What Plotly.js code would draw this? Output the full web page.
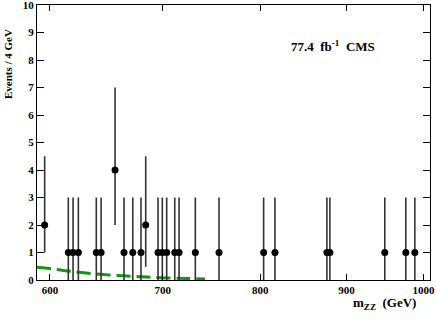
<!DOCTYPE html>
<html>
<head>
<meta charset="utf-8">
<script src="https://cdn.plot.ly/plotly-3.0.1.min.js"></script>
<style>html,body{margin:0;padding:0;background:#fff;}#chart{width:436px;height:321px;}</style>
</head>
<body>
<div id="chart"></div>
<script>
// Data points (m_ZZ in GeV, events per 4 GeV bin)
const massValues = [595.7, 615.3, 619.3, 623.8, 639.3, 643.5, 655.9, 664.0, 672.0, 679.6, 684.0,
  695.6, 699.7, 703.9, 711.7, 715.9, 732.0, 756.1, 803.7, 816.2, 876.3, 879.9, 948.5, 976.2, 988.3];
const eventCounts = [2, 1, 1, 1, 1, 1, 4, 1, 1, 1, 2,
  1, 1, 1, 1, 1, 1, 1, 1, 1, 1, 1, 1, 1, 1];
const errUp = [2.5, 2, 2, 2, 2, 2, 3, 2, 2, 2, 2.5,
  2, 2, 2, 2, 2, 2, 2, 2, 2, 2, 2, 2, 2, 2];
const errDown = [1, 1, 1, 1, 1, 1, 2, 1, 1, 1, 1.52,
  1, 1, 1, 1, 1, 1, 1, 1, 1, 1, 1, 1, 1, 1];

// Background expectation (dashed green)
const bkgMass = [589.5, 602.3, 618.2, 638.1, 658.8, 678.6, 699.0, 723.4, 741.8];
const bkgValues = [0.46, 0.40, 0.31, 0.22, 0.16, 0.12, 0.08, 0.055, 0.04];

const xTickVals = [600, 700, 800, 900, 1000];
const xTickText = ['600', '700', '800', '900', '1000'];
const yTickVals = [0, 1, 2, 3, 4, 5, 6, 7, 8, 9, 10];
const yTickText = ['0', '1', '2', '3', '4', '5', '6', '7', '8', '9', '10'];

const serif = 'Liberation Serif';
const bold = s => '<b>' + s + '</b>';

const traces = [
  {
    x: bkgMass, y: bkgValues, type: 'scatter', mode: 'lines',
    line: {color: '#149614', width: 3, dash: '14px,6px', shape: 'spline'},
    hoverinfo: 'skip', cliponaxis: true
  },
  {
    x: massValues, y: eventCounts, type: 'scatter', mode: 'markers',
    marker: {color: '#000', size: 7, symbol: 'circle'},
    error_y: {type: 'data', symmetric: false, array: errUp, arrayminus: errDown,
      width: 0, thickness: 1.6, color: '#333'},
    cliponaxis: true
  }
];

const layout = {
  width: 436, height: 321,
  margin: {l: 37, r: 6, t: 5, b: 41},
  paper_bgcolor: '#fff', plot_bgcolor: '#fff',
  showlegend: false,
  xaxis: {
    type: 'log',
    range: [Math.log10(589.5), Math.log10(1009)],
    tickmode: 'array', tickvals: xTickVals, ticktext: xTickText.map(bold),
    ticks: 'inside', ticklen: 6, tickwidth: 1, tickcolor: '#000',
    showline: true, linecolor: '#000', linewidth: 1, mirror: 'ticks',
    showgrid: false, zeroline: false, ticklabeloverflow: 'allow',
    tickfont: {family: serif, size: 11, color: '#000'}
  },
  yaxis: {
    range: [0, 10],
    tickmode: 'array', tickvals: yTickVals, ticktext: yTickText.map(bold),
    ticks: 'inside', ticklen: 7, tickwidth: 1, tickcolor: '#000',
    showline: true, linecolor: '#000', linewidth: 1, mirror: 'ticks',
    showgrid: false, zeroline: false, ticklabeloverflow: 'allow',
    tickfont: {family: serif, size: 11, color: '#000'}
  },
  annotations: [
    {
      text: bold('Events / 4 GeV'), xref: 'paper', yref: 'paper',
      x: -0.074, y: 0.785, textangle: -90, showarrow: false,
      xanchor: 'center', yanchor: 'middle',
      font: {family: serif, size: 11, color: '#000'}
    },
    {
      text: bold('m<sub>ZZ</sub>  (GeV)'), xref: 'paper', yref: 'paper',
      x: 0.883, y: -0.085, showarrow: false,
      xanchor: 'center', yanchor: 'middle',
      font: {family: serif, size: 13, color: '#000'}
    },
    {
      text: bold('77.4  fb<sup>-1</sup>  CMS'), xref: 'paper', yref: 'paper',
      x: 0.753, y: 0.851, showarrow: false,
      xanchor: 'center', yanchor: 'middle',
      font: {family: serif, size: 13, color: '#000'}
    }
  ]
};

Plotly.newPlot('chart', traces, layout, {staticPlot: true, displayModeBar: false});
</script>
</body>
</html>
